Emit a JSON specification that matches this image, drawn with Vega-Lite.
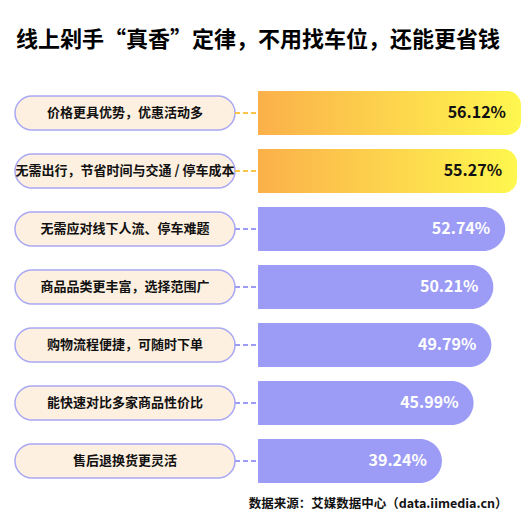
{
  "$schema": "https://vega.github.io/schema/vega-lite/v6.json",
  "width": 532,
  "height": 406,
  "autosize": {"type": "none"},
  "padding": {"left": 0, "top": 84, "right": 0, "bottom": 42},
  "background": "white",
  "config": {"view": {"stroke": null}, "font": "Noto Sans CJK SC"},
  "title": {
    "text": "线上剁手“真香”定律，不用找车位，还能更省钱",
    "anchor": "start",
    "dx": 16,
    "offset": 32,
    "fontSize": 22,
    "fontWeight": "bold",
    "color": "#000000"
  },
  "data": {
    "values": [
      {"item": "价格更具优势，优惠活动多", "value": 0.5612},
      {"item": "无需出行，节省时间与交通 / 停车成本", "value": 0.5527},
      {"item": "无需应对线下人流、停车难题", "value": 0.5274},
      {"item": "商品品类更丰富，选择范围广", "value": 0.5021},
      {"item": "购物流程便捷，可随时下单", "value": 0.4979},
      {"item": "能快速对比多家商品性价比", "value": 0.4599},
      {"item": "售后退换货更灵活", "value": 0.3924}
    ]
  },
  "encoding": {
    "y": {
      "field": "item",
      "type": "nominal",
      "sort": null,
      "axis": null,
      "scale": {"paddingInner": 0.24, "paddingOuter": 0.12}
    }
  },
  "layer": [
    {
      "mark": {"type": "bar", "height": 34, "cornerRadius": 17, "fill": "#fef0e0", "stroke": "#a9a8f4", "strokeWidth": 1.5},
      "encoding": {
        "x": {
          "datum": -0.5185,
          "type": "quantitative",
          "title": "数据来源：艾媒数据中心（data.iimedia.cn）",
          "scale": {"domain": [-0.5505, 0.5846], "nice": false, "zero": false},
          "axis": {
            "orient": "bottom",
            "domain": false,
            "ticks": false,
            "labels": false,
            "grid": false,
            "titleFontSize": 12.5,
            "titleFontWeight": "bold",
            "titleColor": "#111111",
            "titleAlign": "right",
            "titleAnchor": "end",
            "titleX": 507,
            "titleY": 13,
            "titleBaseline": "middle"
          }
        },
        "x2": {"datum": -0.0491}
      }
    },
    {
      "mark": {"type": "rule", "strokeDash": [5, 3], "strokeWidth": 2},
      "encoding": {
        "x": {"datum": -0.0491, "type": "quantitative", "title": "数据来源：艾媒数据中心（data.iimedia.cn）"},
        "x2": {"datum": 0},
        "color": {"condition": {"test": "datum.value > 0.55", "value": "#fcc54a"}, "value": "#9d9cf5"}
      }
    },
    {
      "transform": [{"filter": "datum.value < 0.55"}],
      "mark": {"type": "bar", "height": 44, "cornerRadiusTopRight": 22, "cornerRadiusBottomRight": 22, "fill": "#9c9cf6"},
      "encoding": {
        "x": {"field": "value", "type": "quantitative", "title": "数据来源：艾媒数据中心（data.iimedia.cn）"},
        "x2": {"datum": 0}
      }
    },
    {
      "transform": [{"filter": "datum.value > 0.55"}],
      "mark": {
        "type": "bar",
        "height": 44,
        "cornerRadiusTopRight": 14,
        "cornerRadiusBottomRight": 14,
        "fill": {
          "gradient": "linear",
          "x1": 0, "y1": 0, "x2": 1, "y2": 0,
          "stops": [
            {"offset": 0, "color": "#fbb04a"},
            {"offset": 1, "color": "#fff74f"}
          ]
        }
      },
      "encoding": {
        "x": {"field": "value", "type": "quantitative", "title": "数据来源：艾媒数据中心（data.iimedia.cn）"},
        "x2": {"datum": 0}
      }
    },
    {
      "mark": {"type": "text", "align": "center", "baseline": "middle", "fontSize": 13, "fontWeight": "bold", "color": "#111111"},
      "encoding": {
        "x": {"datum": -0.2838, "type": "quantitative", "title": "数据来源：艾媒数据中心（data.iimedia.cn）"},
        "text": {"field": "item"}
      }
    },
    {
      "mark": {"type": "text", "align": "right", "baseline": "middle", "dx": -15, "fontSize": 16, "fontWeight": "bold"},
      "encoding": {
        "x": {"field": "value", "type": "quantitative", "title": "数据来源：艾媒数据中心（data.iimedia.cn）"},
        "text": {"field": "value", "type": "quantitative", "format": ".2%"},
        "color": {"condition": {"test": "datum.value > 0.55", "value": "#111111"}, "value": "#ffffff"}
      }
    }
  ]
}
